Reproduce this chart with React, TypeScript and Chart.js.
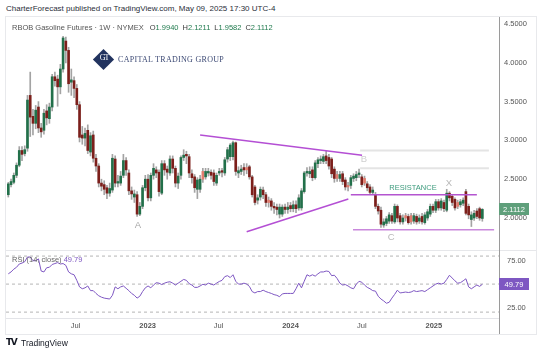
import React, { useEffect, useRef } from "react";
import { Chart, registerables } from "chart.js";

Chart.register(...registerables);

// ---------- data (weekly RBOB Gasoline continuous, Jan 2022 .. May 2025) ----------
const opens = [
  2.30, 2.43, 2.46, 2.55, 2.68, 2.87, 2.83, 2.90, 3.58, 3.31,
  3.22, 3.43, 3.16, 3.13, 3.38, 3.28, 3.43, 3.82, 3.79, 3.69,
  3.92, 4.28, 4.16, 3.75, 3.77, 3.67, 3.46, 3.07, 3.03, 3.13,
  2.85, 3.07, 2.77, 2.67, 2.45, 2.43, 2.39, 2.32, 2.36, 2.76,
  2.45, 2.45, 2.55, 2.74, 2.58, 2.35, 2.27, 2.30, 2.05, 2.15,
  2.39, 2.50, 2.26, 2.55, 2.62, 2.59, 2.32, 2.70, 2.63, 2.58,
  2.76, 2.64, 2.45, 2.55, 2.78, 2.82, 2.79, 2.57, 2.53, 2.37,
  2.37, 2.60, 2.53, 2.58, 2.59, 2.58, 2.45, 2.58, 2.61, 2.58,
  2.76, 2.79, 2.79, 2.97, 2.58, 2.60, 2.65, 2.65, 2.66, 2.53,
  2.40, 2.23, 2.27, 2.36, 2.30, 2.23, 2.22, 2.15, 2.14, 2.05,
  2.05, 2.14, 2.11, 2.16, 2.12, 2.17, 2.13, 2.13, 2.34, 2.58,
  2.57, 2.62, 2.52, 2.70, 2.74, 2.73, 2.80, 2.78, 2.76, 2.63,
  2.56, 2.51, 2.57, 2.49, 2.42, 2.42, 2.51, 2.52, 2.56, 2.53,
  2.51, 2.44, 2.40, 2.33, 2.30, 2.15, 2.10, 1.91, 1.93, 1.96,
  2.03, 1.95, 2.15, 2.03, 1.95, 2.03, 2.02, 2.03, 1.96, 2.02,
  1.96, 2.02, 1.94, 2.00, 2.05, 2.15, 2.10, 2.21, 2.13, 2.20,
  2.10, 2.32, 2.28, 2.24, 2.20, 2.17, 2.19, 2.34, 2.15, 1.98,
  2.00, 2.09, 2.12, 1.994,
];
const highs = [
  2.46, 2.50, 2.58, 2.71, 2.92, 2.92, 2.93, 3.58, 3.88, 3.40,
  3.45, 3.50, 3.22, 3.40, 3.46, 3.48, 3.85, 3.88, 3.84, 3.98,
  4.34, 4.33, 4.20, 3.92, 3.82, 3.72, 3.50, 3.18, 3.16, 3.20,
  3.10, 3.12, 2.82, 2.70, 2.50, 2.48, 2.42, 2.45, 2.82, 2.80,
  2.55, 2.60, 2.82, 2.78, 2.62, 2.40, 2.36, 2.34, 2.20, 2.42,
  2.55, 2.56, 2.58, 2.70, 2.66, 2.62, 2.74, 2.74, 2.67, 2.80,
  2.80, 2.67, 2.58, 2.80, 2.88, 2.86, 2.82, 2.62, 2.56, 2.52,
  2.55, 2.64, 2.64, 2.64, 2.62, 2.62, 2.58, 2.64, 2.64, 2.78,
  2.91, 2.96, 2.99, 2.98, 2.66, 2.68, 2.70, 2.70, 2.68, 2.55,
  2.42, 2.30, 2.40, 2.40, 2.33, 2.27, 2.25, 2.20, 2.18, 2.18,
  2.17, 2.18, 2.20, 2.20, 2.22, 2.22, 2.30, 2.38, 2.60, 2.65,
  2.66, 2.66, 2.74, 2.78, 2.80, 2.82, 2.86, 2.82, 2.78, 2.66,
  2.60, 2.60, 2.60, 2.52, 2.46, 2.55, 2.57, 2.60, 2.63, 2.56,
  2.54, 2.47, 2.43, 2.40, 2.33, 2.18, 2.14, 1.99, 2.02, 2.07,
  2.06, 2.18, 2.17, 2.06, 2.04, 2.06, 2.05, 2.06, 2.06, 2.05,
  2.04, 2.06, 2.07, 2.11, 2.18, 2.18, 2.24, 2.24, 2.25, 2.23,
  2.37, 2.34, 2.30, 2.26, 2.23, 2.24, 2.26, 2.37, 2.18, 2.08,
  2.10, 2.12, 2.14, 2.1211,
];
const lows = [
  2.27, 2.40, 2.44, 2.52, 2.66, 2.74, 2.80, 2.86, 3.05, 3.07,
  3.15, 3.10, 3.04, 3.08, 3.20, 3.22, 3.38, 3.70, 3.44, 3.60,
  3.88, 4.00, 3.62, 3.58, 3.55, 3.40, 2.98, 2.95, 2.93, 2.83,
  2.80, 2.72, 2.60, 2.40, 2.35, 2.30, 2.25, 2.28, 2.33, 2.40,
  2.40, 2.42, 2.52, 2.55, 2.30, 2.24, 2.20, 2.02, 2.03, 2.12,
  2.35, 2.22, 2.22, 2.50, 2.52, 2.28, 2.30, 2.55, 2.50, 2.55,
  2.58, 2.40, 2.38, 2.50, 2.74, 2.70, 2.52, 2.45, 2.33, 2.25,
  2.33, 2.46, 2.50, 2.54, 2.50, 2.42, 2.42, 2.55, 2.53, 2.55,
  2.72, 2.74, 2.75, 2.55, 2.52, 2.56, 2.55, 2.57, 2.50, 2.27,
  2.17, 2.18, 2.23, 2.25, 2.15, 2.14, 2.10, 2.06, 2.04, 2.00,
  2.02, 2.06, 2.06, 2.08, 2.08, 2.07, 2.10, 2.10, 2.32, 2.54,
  2.52, 2.48, 2.50, 2.65, 2.70, 2.70, 2.70, 2.63, 2.52, 2.46,
  2.47, 2.47, 2.43, 2.36, 2.35, 2.38, 2.47, 2.48, 2.52, 2.40,
  2.42, 2.35, 2.30, 2.30, 2.12, 2.05, 1.88, 1.88, 1.90, 1.93,
  1.93, 1.93, 1.95, 1.92, 1.92, 1.96, 1.92, 1.92, 1.93, 1.92,
  1.93, 1.92, 1.92, 1.97, 2.02, 2.07, 2.07, 2.10, 2.10, 2.08,
  2.08, 2.22, 2.16, 2.10, 2.12, 2.14, 2.16, 2.04, 1.99, 1.89,
  1.97, 1.99, 1.97, 1.9582,
];
const closes = [
  2.44, 2.47, 2.55, 2.68, 2.87, 2.82, 2.88, 3.52, 3.30, 3.22,
  3.39, 3.16, 3.11, 3.35, 3.29, 3.43, 3.82, 3.77, 3.69, 3.92,
  4.32, 4.16, 3.73, 3.78, 3.67, 3.46, 3.04, 3.03, 3.09, 2.87,
  3.06, 2.77, 2.67, 2.45, 2.41, 2.37, 2.32, 2.38, 2.77, 2.45,
  2.47, 2.54, 2.74, 2.62, 2.35, 2.31, 2.31, 2.05, 2.15, 2.39,
  2.50, 2.26, 2.55, 2.64, 2.58, 2.34, 2.70, 2.62, 2.59, 2.76,
  2.64, 2.45, 2.54, 2.78, 2.81, 2.80, 2.58, 2.52, 2.39, 2.49,
  2.50, 2.50, 2.60, 2.60, 2.55, 2.47, 2.55, 2.60, 2.59, 2.75,
  2.88, 2.94, 2.97, 2.60, 2.61, 2.63, 2.62, 2.62, 2.53, 2.30,
  2.20, 2.26, 2.37, 2.30, 2.20, 2.20, 2.15, 2.13, 2.11, 2.14,
  2.14, 2.11, 2.14, 2.12, 2.17, 2.12, 2.26, 2.35, 2.58, 2.60,
  2.60, 2.52, 2.71, 2.75, 2.76, 2.79, 2.74, 2.67, 2.57, 2.51,
  2.51, 2.56, 2.47, 2.40, 2.40, 2.52, 2.54, 2.56, 2.58, 2.43,
  2.45, 2.39, 2.33, 2.36, 2.15, 2.09, 1.92, 1.95, 1.99, 2.04,
  1.96, 2.15, 2.00, 1.95, 2.00, 2.00, 1.94, 1.95, 2.03, 1.95,
  2.00, 1.95, 2.04, 2.08, 2.15, 2.10, 2.21, 2.13, 2.22, 2.12,
  2.32, 2.26, 2.20, 2.13, 2.15, 2.21, 2.23, 2.06, 2.04, 2.04,
  2.06, 2.02, 2.00, 2.1112,
];
const rsiValues = [
  61, 63, 66, 68, 71.5, 72.5, 74, 79, 79, 75,
  75, 77, 64, 63, 67.5, 68, 71, 72, 73, 71.5,
  72, 70, 63, 61, 60, 54, 47, 45, 46, 48,
  43, 43, 40, 37.5, 36, 35, 34.5, 34, 38, 47,
  45, 47, 48, 45.5, 43, 40, 38, 35, 37, 42,
  46, 48, 46, 49, 51.5, 51, 49.5, 51, 52, 52.5,
  51, 49, 51, 53, 55, 54, 50.5, 49, 46.5, 46.5,
  48, 49.8, 49, 51, 50, 49, 51, 52.8, 54, 58,
  59, 57, 60, 53, 50, 50, 51, 50, 47.5, 42,
  40.5, 42, 42, 43.5, 42, 41, 40, 38.7, 38, 36.5,
  39.5, 40, 40, 40, 40, 45, 51, 46, 53, 60,
  58.5, 60, 58.5, 61, 63, 63, 64, 63.5, 59, 59.5,
  56, 51, 49, 49.5, 48, 46, 45, 49.8, 53, 52,
  49, 46.5, 45, 43, 42.5, 37, 34, 32, 29.5, 30.5,
  35, 39, 43.5, 40.5, 41, 41.5, 41, 41.5, 43, 42,
  42.5, 43, 42, 44, 46, 48, 50, 51, 50, 51,
  55, 59.5, 56.5, 53.5, 51, 51.5, 53.5, 55.7, 47, 45,
  47, 49, 47.5, 49.79,
];

// time axis (week index from the first bar, week of 10 Jan 2022)
const timeTickWeeks = [24.57, 50.86, 76.7, 103, 129, 155.3];
const timeTickLabels = ["Jul", "2023", "Jul", "2024", "Jul", "2025"];
const priceTicks = [2.0, 2.5, 3.0, 3.5, 4.0, 4.5];
const rsiTicks = [25, 75];
const rsiBands = [80, 50, 20];

// drawings (week index, price)
const trendStartWeeks = [70, 87, 125, 125.8, 128.4, 128.4];
const trendEndWeeks = [129.1, 124.1, 171, 177.3, 175.4, 175.4];
const trendStartPrices = [3.07, 1.823, 2.30, 1.85, 2.87, 2.64];
const trendEndPrices = [2.81, 2.245, 2.30, 1.85, 2.87, 2.64];

const markTexts = ["A", "B", "C", "X", "RESISTANCE"];
const markWeeks = [47.3, 129.8, 139.7, 160.8, 147.7];
const markPrices = [1.91, 2.75, 1.755, 2.45, 2.387];

// ---------- styling ----------
const FONT = "'Liberation Sans', Arial, sans-serif";
const UP_DARK = "#22704a";
const UP_LIGHT = "#8cbb9c";
const DOWN_DARK = "#7c1f1b";
const DOWN_LIGHT = "#e27c6e";
const WICK = "#a3a3a3";
const AXIS_LINE = "#9a9a9a";
const TICK_COLOR = "#555555";
const RSI_COLOR = "#7e57c2";
const TREND_COLORS = ["#b44fd4", "#b44fd4", "#b455d0", "#c988dc", "#e4e4e4", "#e4e4e4"];
const TREND_WIDTHS = [1.5, 1.5, 1.5, 1.5, 2, 2];
const MARK_COLORS = ["#a8a8a8", "#cfcfcf", "#b8b8b8", "#b8b8b8", "#3d9b7d"];

const X_MIN = -0.84;
const X_MAX = 179.08;
const PRICE_MIN = 1.5876;
const PRICE_MAX = 4.5902;
const RSI_MIN = 13.7;
const RSI_MAX = 86.5;
const AXIS_W = 37;
const BOX_W = 30;

const noPad = (s: any) => {
  s.paddingTop = 0;
  s.paddingBottom = 0;
  s.paddingLeft = 0;
  s.paddingRight = 0;
};

const drawValueBox = (chart: any, value: number, text: string, color: string) => {
  const { ctx, scales, chartArea } = chart;
  const py = Math.round(scales.y.getPixelForValue(value));
  ctx.save();
  ctx.fillStyle = color;
  ctx.fillRect(chartArea.right, py - 6, BOX_W, 12);
  ctx.fillStyle = "#ffffff";
  ctx.font = `7.5px ${FONT}`;
  ctx.textAlign = "center";
  ctx.textBaseline = "middle";
  ctx.fillText(text, chartArea.right + BOX_W / 2, py + 0.5);
  ctx.restore();
};

export default function App() {
  const priceRef = useRef<HTMLCanvasElement>(null);
  const rsiRef = useRef<HTMLCanvasElement>(null);

  useEffect(() => {
    document.body.style.margin = "0";

    const bodyColors = closes.map((c, i) => {
      const o = opens[i];
      const prev = i > 0 ? closes[i - 1] : o;
      if (c >= o) return c >= prev ? UP_DARK : UP_LIGHT;
      return c < prev ? DOWN_DARK : DOWN_LIGHT;
    });

    const trendDatasets: any[] = trendStartWeeks.map((w, k) => ({
      type: "line",
      data: [
        { x: w, y: trendStartPrices[k] },
        { x: trendEndWeeks[k], y: trendEndPrices[k] },
      ],
      borderColor: TREND_COLORS[k],
      borderWidth: TREND_WIDTHS[k],
      pointRadius: 0,
      fill: false,
      order: k >= 4 ? 4 : 1,
    }));

    const priceOverlay = {
      id: "priceOverlay",
      afterDatasetsDraw(chart: any) {
        const { ctx, scales } = chart;
        ctx.save();
        ctx.textAlign = "center";
        ctx.textBaseline = "middle";
        markTexts.forEach((t, k) => {
          const big = t.length === 1;
          ctx.font = `${big ? 9.5 : 7.5}px ${FONT}`;
          ctx.fillStyle = MARK_COLORS[k];
          ctx.fillText(t, scales.x.getPixelForValue(markWeeks[k]), scales.y.getPixelForValue(markPrices[k]));
        });
        ctx.restore();
      },
      afterDraw(chart: any) {
        const last = closes[closes.length - 1];
        drawValueBox(chart, last, last.toFixed(4), "#5f9f7b");
      },
    };

    const priceChart = new Chart(priceRef.current as HTMLCanvasElement, {
      type: "bar",
      data: {
        datasets: [
          {
            type: "bar",
            data: highs.map((h, i) => ({ x: i, y: [lows[i], h] })) as any,
            backgroundColor: WICK,
            barThickness: 1,
            grouped: false,
            order: 3,
          } as any,
          {
            type: "bar",
            data: opens.map((o, i) => ({ x: i, y: [o, closes[i]] })) as any,
            backgroundColor: bodyColors,
            barThickness: 2,
            minBarLength: 1,
            grouped: false,
            order: 2,
          } as any,
          ...trendDatasets,
        ],
      },
      options: {
        animation: false,
        responsive: false,
        maintainAspectRatio: false,
        devicePixelRatio: 1,
        layout: { padding: 0 },
        plugins: { legend: { display: false }, tooltip: { enabled: false } },
        scales: {
          x: { type: "linear", min: X_MIN, max: X_MAX, display: false, offset: false },
          y: {
            type: "linear",
            position: "right",
            min: PRICE_MIN,
            max: PRICE_MAX,
            afterFit: (s: any) => {
              s.width = AXIS_W;
              noPad(s);
            },
            afterBuildTicks: (s: any) => {
              s.ticks = priceTicks.map((v) => ({ value: v }));
            },
            ticks: {
              color: TICK_COLOR,
              font: { size: 7.5, family: FONT },
              padding: 5,
              callback: (v: any) => Number(v).toFixed(4),
            },
            grid: { display: false, drawTicks: false },
            border: { display: true, color: AXIS_LINE },
          },
        },
      } as any,
      plugins: [priceOverlay],
    });

    const rsiOverlay = {
      id: "rsiOverlay",
      afterDraw(chart: any) {
        const last = rsiValues[rsiValues.length - 1];
        drawValueBox(chart, last, last.toFixed(2), RSI_COLOR);
      },
    };

    const rsiChart = new Chart(rsiRef.current as HTMLCanvasElement, {
      type: "line",
      data: {
        datasets: [
          ...rsiBands.map((b) => ({
            data: [
              { x: X_MIN, y: b },
              { x: X_MAX, y: b },
            ],
            borderColor: "#b5b5b5",
            borderWidth: 1,
            borderDash: [3, 3],
            pointRadius: 0,
            order: 2,
          })),
          {
            data: rsiValues.map((v, i) => ({ x: i, y: v })),
            borderColor: RSI_COLOR,
            borderWidth: 1,
            pointRadius: 0,
            tension: 0,
            order: 1,
          },
        ],
      },
      options: {
        animation: false,
        responsive: false,
        maintainAspectRatio: false,
        devicePixelRatio: 1,
        layout: { padding: 0 },
        plugins: { legend: { display: false }, tooltip: { enabled: false } },
        scales: {
          x: {
            type: "linear",
            min: X_MIN,
            max: X_MAX,
            position: "bottom",
            afterFit: (s: any) => {
              s.height = 16;
              noPad(s);
            },
            afterBuildTicks: (s: any) => {
              s.ticks = timeTickWeeks.map((v) => ({ value: v }));
            },
            ticks: {
              autoSkip: false,
              maxRotation: 0,
              minRotation: 0,
              padding: 3,
              color: TICK_COLOR,
              callback: (v: any) => {
                const k = timeTickWeeks.indexOf(Number(v));
                return k >= 0 ? timeTickLabels[k] : "";
              },
              font: (c: any) => {
                const lbl = c.tick ? String(c.tick.label) : "";
                return { size: 7.5, family: FONT, weight: /^\d/.test(lbl) ? "bold" : "normal" };
              },
            },
            grid: { display: false, drawTicks: false },
            border: { display: true, color: "#e3e4e8" },
          },
          y: {
            type: "linear",
            position: "right",
            min: RSI_MIN,
            max: RSI_MAX,
            afterFit: (s: any) => {
              s.width = AXIS_W;
              noPad(s);
            },
            afterBuildTicks: (s: any) => {
              s.ticks = rsiTicks.map((v) => ({ value: v }));
            },
            ticks: {
              color: TICK_COLOR,
              font: { size: 7.5, family: FONT },
              padding: 8,
              callback: (v: any) => Number(v).toFixed(2),
            },
            grid: { display: false, drawTicks: false },
            border: { display: true, color: AXIS_LINE },
          },
        },
      } as any,
      plugins: [rsiOverlay],
    });

    return () => {
      priceChart.destroy();
      rsiChart.destroy();
    };
  }, []);

  const ohlcLabel = (k: string, v: string) => (
    <span style={{ marginLeft: 4 }}>
      <span style={{ color: "#3b3b3b" }}>{k}</span>
      <span style={{ color: "#1f7a4d" }}>{v}</span>
    </span>
  );

  return (
    <div
      style={{
        position: "relative",
        width: 540,
        height: 354,
        background: "#ffffff",
        fontFamily: FONT,
        overflow: "hidden",
      }}
    >
      <div style={{ position: "absolute", left: 6, top: 4, fontSize: 8, color: "#2a2e39", whiteSpace: "nowrap" }}>
        CharterForecast published on TradingView.com, May 09, 2025 17:30 UTC-4
      </div>
      <div
        style={{
          position: "absolute",
          left: 5,
          top: 16,
          width: 532,
          height: 319,
          border: "1px solid #e8e9ec",
          boxSizing: "border-box",
        }}
      />
      <canvas
        ref={priceRef}
        width={530}
        height={233}
        style={{ position: "absolute", left: 6, top: 17, width: 530, height: 233 }}
      />
      <div style={{ position: "absolute", left: 6, top: 250, width: 530, height: 1, background: "#e6e7ea" }} />
      <canvas
        ref={rsiRef}
        width={530}
        height={84}
        style={{ position: "absolute", left: 6, top: 250, width: 530, height: 84 }}
      />
      <div style={{ position: "absolute", left: 499, top: 318, width: 1, height: 16, background: AXIS_LINE }} />

      <div
        style={{
          position: "absolute",
          left: 12,
          top: 23,
          fontSize: 7.5,
          color: "#555",
          whiteSpace: "nowrap",
        }}
      >
        <span>RBOB Gasoline Futures · 1W · NYMEX</span>
        <span style={{ marginLeft: 2 }} />
        {ohlcLabel("O", "1.9940")}
        {ohlcLabel("H", "2.1211")}
        {ohlcLabel("L", "1.9582")}
        {ohlcLabel("C", "2.1112")}
      </div>

      <div
        style={{
          position: "absolute",
          left: 96,
          top: 52,
          width: 15,
          height: 15,
          background: "#22335f",
          transform: "rotate(45deg)",
        }}
      />
      <div
        style={{
          position: "absolute",
          left: 96,
          top: 53,
          width: 16,
          textAlign: "center",
          fontFamily: "'Liberation Serif', serif",
          fontSize: 8,
          color: "#ffffff",
          letterSpacing: -1,
        }}
      >
        GT
      </div>
      <div
        style={{
          position: "absolute",
          left: 118,
          top: 55,
          fontFamily: "'Liberation Serif', serif",
          fontSize: 8,
          letterSpacing: 0.3,
          color: "#3d4a75",
          whiteSpace: "nowrap",
        }}
      >
        CAPITAL TRADING GROUP
      </div>

      <div style={{ position: "absolute", left: 12, top: 255, fontSize: 7.5, color: "#666", whiteSpace: "nowrap" }}>
        RSI (14, close) <span style={{ color: RSI_COLOR }}>49.79</span>
      </div>

      <div
        style={{
          position: "absolute",
          left: 6,
          top: 337,
          fontSize: 9,
          fontWeight: 900,
          color: "#131722",
          letterSpacing: -1.5,
          fontFamily: "'DejaVu Sans', sans-serif",
        }}
      >
        TV
      </div>
      <div style={{ position: "absolute", left: 21, top: 338, fontSize: 8.5, color: "#131722" }}>TradingView</div>
    </div>
  );
}
